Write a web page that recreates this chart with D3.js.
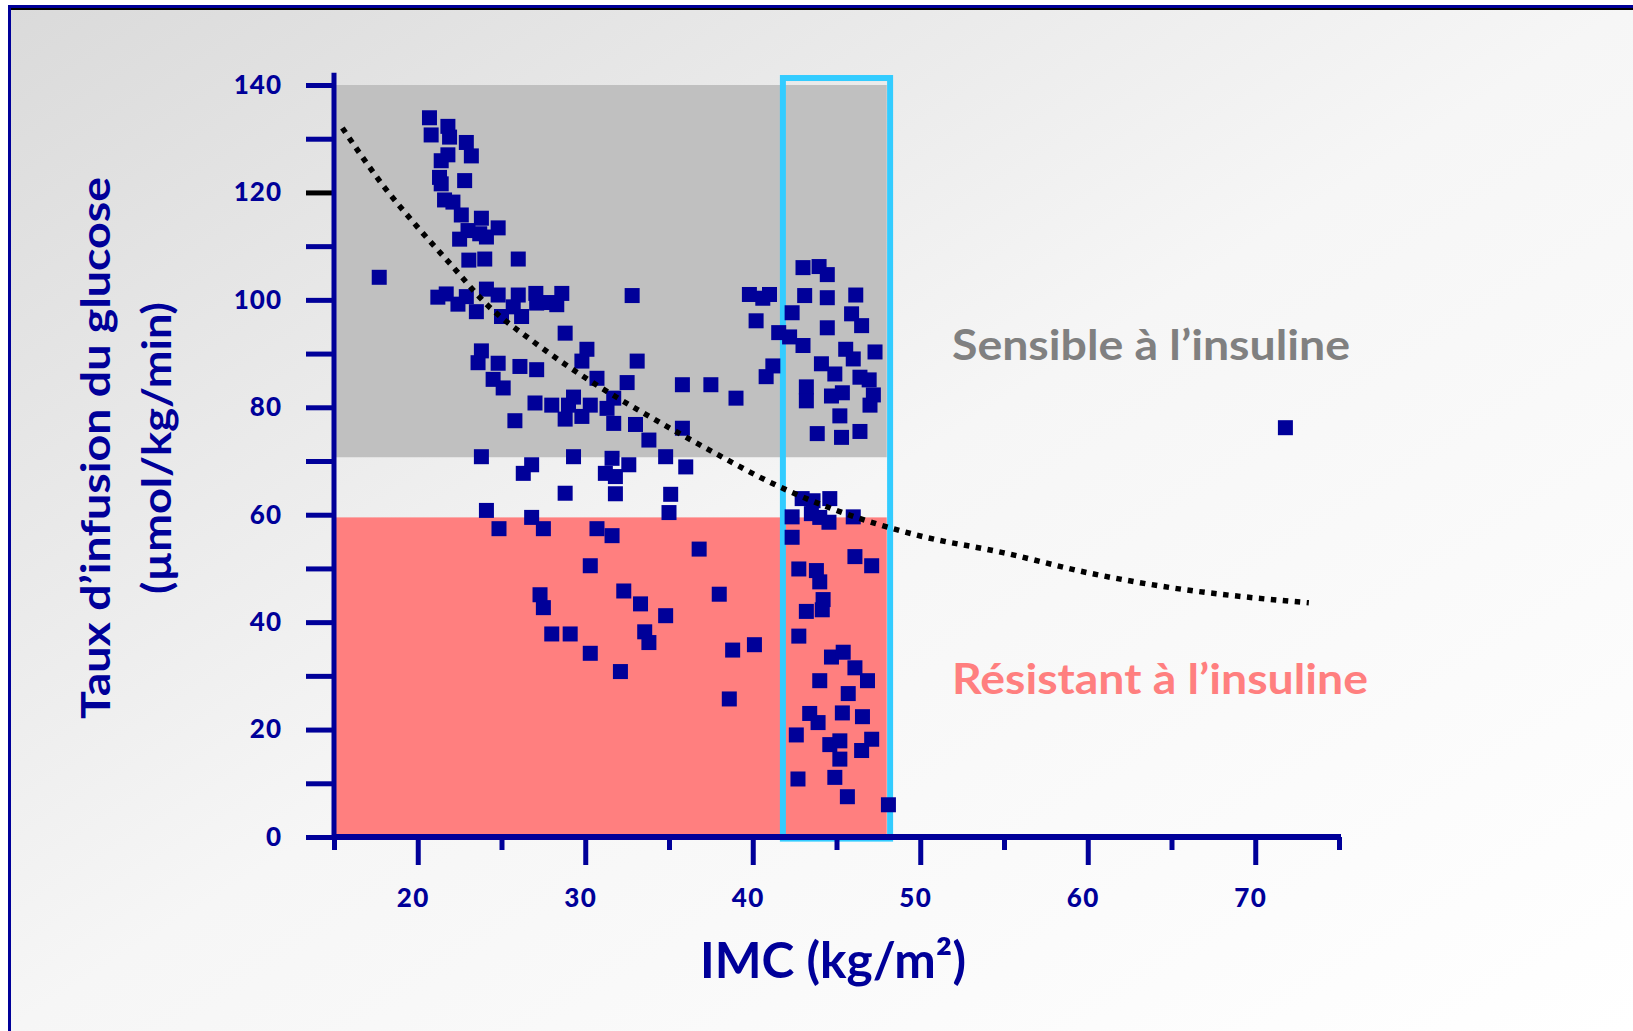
<!DOCTYPE html>
<html>
<head>
<meta charset="utf-8">
<script src="https://cdn.jsdelivr.net/npm/d3@7"></script>
<style>
  html, body { margin: 0; padding: 0; background: #fff; }
  svg { display: block; }
  text { font-family: Lato, "Open Sans", sans-serif; font-weight: 700; }
</style>
</head>
<body>
<svg id="graph"></svg>
<script>
// IMC de chaque sujet (kg/m²)
var bmi = [
    20.7, 20.8, 21.8, 21.9, 22.9, 23.2, 21.8, 21.4, 21.3, 21.4, 22.8, 21.6, 22.1,
    22.6, 23.8, 23.0, 22.5, 23.7, 24.1, 24.8,
    23.05, 24.0, 26.0, 17.7,
    21.2, 21.7, 22.4, 22.9, 24.1, 23.5, 24.8, 25.0, 26.0, 26.2, 27.05, 27.1, 27.8, 28.6, 28.3, 25.7,
    28.8, 30.1, 29.8, 30.7,
    23.8, 23.6, 24.8, 24.5, 25.1, 26.1, 27.1,
    27.0, 28.0, 29.3, 29.0, 30.3, 28.8, 29.8, 25.8,
    23.8, 29.3,
    26.8, 26.3, 28.8, 24.1, 26.8, 24.85, 27.5, 30.7, 30.3, 27.3, 27.5, 28.0, 29.1, 30.3,
    32.5, 33.1, 32.8, 31.7, 31.3, 31.7, 33.0, 33.8, 35.8, 37.5, 39.0, 35.8, 31.6, 32.6,
    39.8, 40.6, 41.0, 40.2, 41.55, 42.35, 42.2, 41.2, 40.8, 43.0, 43.96, 44.45, 43.1, 44.45,
    46.15, 45.9, 46.5, 44.45, 43.0, 45.55, 46.0, 47.3, 44.1, 44.9, 46.4, 46.95, 43.2, 43.2,
    44.7, 45.35, 47.2, 47.0, 45.2, 43.85, 45.3, 46.4,
    34.8, 31.2, 31.8, 31.8, 36.0, 35.1, 35.0, 31.6, 36.8, 32.3, 33.3, 34.8, 38.0, 33.55,
    33.8, 38.8, 40.1, 32.1, 38.6,
    42.95, 43.6, 44.6, 43.5, 44.0, 44.55, 46.0, 42.35, 42.35, 46.1, 47.1, 42.75, 43.8, 44.0,
    44.2, 44.15, 43.2, 42.75, 44.7, 45.4, 46.1, 46.85, 44.0, 45.7, 43.4, 43.9, 45.35, 46.55,
    42.6, 44.6, 45.2, 45.2, 47.1, 46.5, 42.7, 44.9, 45.65, 48.1,
    71.8
];
// taux d'infusion du glucose (µmol/kg/min)
var glucose = [
    133.9, 130.7, 132.3, 130.3, 129.3, 126.8, 127.0, 125.9, 122.8, 121.6, 122.2, 118.6, 118.2,
    115.8, 115.2, 112.9, 111.3, 112.3, 111.7, 113.4,
    107.4, 107.6, 107.6, 104.2,
    100.5, 101.1, 99.2, 100.6, 102.0, 97.8, 100.9, 96.9, 100.9, 96.9, 101.2, 99.4, 99.5, 101.2, 99.1, 98.7,
    93.8, 90.8, 88.6, 85.4,
    90.5, 88.3, 88.2, 85.2, 83.6, 87.6, 87.0,
    80.8, 80.4, 81.9, 80.4, 80.4, 77.8, 78.3, 77.5,
    70.8, 70.8,
    69.3, 67.7, 64.0, 60.8, 59.5, 57.4, 57.4, 57.4, 50.5, 45.1, 42.7, 37.8, 37.8, 34.2,
    84.6, 88.6, 100.8, 81.7, 79.8, 77.0, 76.8, 73.9, 84.2, 84.2, 81.7, 76.1, 70.5, 69.3,
    101.0, 100.3, 101.0, 96.1, 93.9, 97.6, 93.1, 87.7, 85.7, 106.0, 106.2, 104.7, 100.8, 100.4,
    100.9, 97.4, 95.2, 94.8, 91.5, 90.8, 89.0, 90.3, 88.1, 86.2, 85.6, 85.1, 83.8, 81.2,
    82.1, 82.7, 82.3, 80.4, 78.4, 75.1, 74.4, 75.5,
    70.8, 67.7, 67.1, 63.9, 68.9, 63.8, 60.4, 56.1, 53.6, 45.8, 43.4, 41.2, 45.2, 38.2,
    36.2, 34.8, 35.8, 30.8, 25.7,
    63.0, 62.6, 63.0, 60.2, 59.5, 58.6, 59.6, 59.6, 55.8, 52.2, 50.5, 49.9, 49.6, 47.5,
    44.2, 42.3, 42.0, 37.4, 33.5, 34.4, 31.5, 29.1, 29.1, 26.7, 23.0, 21.3, 23.1, 22.4,
    19.0, 17.2, 17.9, 14.5, 18.2, 16.1, 10.8, 11.1, 7.5, 6.0,
    76.2
];

// courbe de tendance (pointillés)
var trendBmi = [15.5, 18, 20, 22, 24, 27, 30.5, 34, 37.2, 41.6, 45, 49.8, 55, 60, 65, 70, 73.2];
var trendGlucose = [132, 121, 113.5, 106.5, 99.5, 92, 84.5, 78, 72.4, 65.2, 60.8, 56.2, 52.9, 49.2, 46.4, 44.5, 43.6];

// zones
var sensibleZone = [70.7, 140];
var resistantZone = [0, 59.5];
var zoneBmiMax = 48;
var obeseBox = [41.8, 48.2];

var yTicks = d3.range(0, 141, 10);
var xMajorTicks = [20, 30, 40, 50, 60, 70];
var xMinorTicks = [15, 25, 35, 45, 55, 65, 75];

var svgWidth = 1633;
var svgHeight = 1031;
var blue = '#000099';

var svg = d3.select('#graph')
    .attr('width', svgWidth)
    .attr('height', svgHeight);

// fond dégradé
var defs = svg.append('defs');
var grad = defs.append('linearGradient')
    .attr('id', 'bg')
    .attr('x1', 0).attr('y1', 0)
    .attr('x2', 1).attr('y2', 1);
grad.append('stop').attr('offset', '0%').attr('stop-color', '#dadada');
grad.append('stop').attr('offset', '50%').attr('stop-color', '#f6f6f6');
grad.append('stop').attr('offset', '100%').attr('stop-color', '#ffffff');

svg.append('rect')
    .attr('x', 8).attr('y', 5)
    .attr('width', svgWidth - 8).attr('height', svgHeight - 5)
    .attr('fill', 'url(#bg)');

// cadre
svg.append('rect').attr('x', 8).attr('y', 5).attr('width', svgWidth - 8).attr('height', 3).attr('fill', blue);
svg.append('rect').attr('x', 11).attr('y', 8).attr('width', svgWidth - 11).attr('height', 2).attr('fill', '#000');
svg.append('rect').attr('x', 8).attr('y', 5).attr('width', 3).attr('height', svgHeight - 5).attr('fill', blue);

var x = d3.scaleLinear().domain([15, 75]).range([334, 1339]);
var y = d3.scaleLinear().domain([0, 140]).range([837, 85]);

// zones colorées
svg.append('rect')
    .attr('x', x(15))
    .attr('y', y(sensibleZone[1]))
    .attr('width', x(zoneBmiMax) - x(15))
    .attr('height', y(sensibleZone[0]) - y(sensibleZone[1]))
    .attr('fill', '#c0c0c0');

svg.append('rect')
    .attr('x', x(15))
    .attr('y', y(resistantZone[1]))
    .attr('width', x(zoneBmiMax) - x(15))
    .attr('height', y(resistantZone[0]) - y(resistantZone[1]))
    .attr('fill', '#ff7f7f');

// encadré bleu clair
svg.append('rect')
    .attr('x', x(obeseBox[0]))
    .attr('y', y(141.3))
    .attr('width', x(obeseBox[1]) - x(obeseBox[0]))
    .attr('height', y(-0.3) - y(141.3))
    .attr('fill', 'none')
    .attr('stroke', '#33ccff')
    .attr('stroke-width', 6);

// points
var DATA = bmi.map((b, i) => ({ bmi: b, glucose: glucose[i] }));
var size = 15;
svg.selectAll('rect.pt')
    .data(DATA)
    .enter()
    .append('rect')
    .attr('class', 'pt')
    .attr('x', d => x(d.bmi) - size / 2)
    .attr('y', d => y(d.glucose) - size / 2)
    .attr('width', size)
    .attr('height', size)
    .attr('fill', blue);

// courbe en pointillés
var trend = trendBmi.map((b, i) => [b, trendGlucose[i]]);
var line = d3.line()
    .x(d => x(d[0]))
    .y(d => y(d[1]))
    .curve(d3.curveMonotoneX);
svg.append('path')
    .datum(trend)
    .attr('d', line)
    .attr('fill', 'none')
    .attr('stroke', '#000')
    .attr('stroke-width', 5.5)
    .attr('stroke-dasharray', '5.5,6.5');

// axe Y
var yAxis = svg.append('g')
    .attr('transform', 'translate(' + x(15) + ',0)')
    .call(d3.axisLeft(y)
        .tickValues(yTicks)
        .tickSize(28)
        .tickPadding(24)
        .tickFormat(d => d % 20 === 0 ? d : ''));
yAxis.select('.domain').remove();
yAxis.selectAll('line')
    .attr('stroke', d => d === 120 ? '#000' : blue)
    .attr('stroke-width', 5);
yAxis.selectAll('text')
    .attr('fill', blue)
    .style('font-size', '26px')
    .style('font-weight', 900)
    .style('letter-spacing', '1px');

svg.append('line')
    .attr('x1', x(15)).attr('x2', x(15))
    .attr('y1', y(142.3)).attr('y2', y(0) + 2)
    .attr('stroke', blue)
    .attr('stroke-width', 5);

// axe X
var xMinor = svg.append('g')
    .attr('transform', 'translate(0,' + y(0) + ')')
    .call(d3.axisBottom(x).tickValues(xMinorTicks).tickSize(13).tickFormat(''));
xMinor.select('.domain').remove();
xMinor.selectAll('line').attr('stroke', blue).attr('stroke-width', 5);

var xMajor = svg.append('g')
    .attr('transform', 'translate(0,' + y(0) + ')')
    .call(d3.axisBottom(x).tickValues(xMajorTicks).tickSize(28).tickPadding(24));
xMajor.select('.domain').remove();
xMajor.selectAll('line').attr('stroke', blue).attr('stroke-width', 5);
xMajor.selectAll('text')
    .attr('fill', blue)
    .attr('dx', -5)
    .style('font-size', '26px')
    .style('font-weight', 900)
    .style('letter-spacing', '1.5px');

svg.append('line')
    .attr('x1', x(15) - 2).attr('x2', x(75) + 2)
    .attr('y1', y(0)).attr('y2', y(0))
    .attr('stroke', blue)
    .attr('stroke-width', 6);

// titres des axes
svg.append('text')
    .attr('x', 833)
    .attr('y', 978)
    .attr('text-anchor', 'middle')
    .attr('fill', blue)
    .attr('textLength', 266)
    .attr('lengthAdjust', 'spacingAndGlyphs')
    .style('font-size', '49px')
    .text('IMC (kg/m²)');

svg.append('text')
    .attr('transform', 'translate(110,448) rotate(-90)')
    .attr('text-anchor', 'middle')
    .attr('fill', blue)
    .attr('textLength', 542)
    .attr('lengthAdjust', 'spacingAndGlyphs')
    .style('font-size', '41px')
    .text('Taux d’infusion du glucose');

svg.append('text')
    .attr('transform', 'translate(171,448) rotate(-90)')
    .attr('text-anchor', 'middle')
    .attr('fill', blue)
    .attr('textLength', 292)
    .attr('lengthAdjust', 'spacingAndGlyphs')
    .style('font-size', '41px')
    .text('(µmol/kg/min)');

// légendes des zones
svg.append('text')
    .attr('x', 952)
    .attr('y', 360)
    .attr('fill', '#808080')
    .attr('textLength', 398)
    .attr('lengthAdjust', 'spacingAndGlyphs')
    .style('font-size', '42px')
    .text('Sensible à l’insuline');

svg.append('text')
    .attr('x', 952)
    .attr('y', 694)
    .attr('fill', '#ff7f7f')
    .attr('textLength', 416)
    .attr('lengthAdjust', 'spacingAndGlyphs')
    .style('font-size', '42px')
    .text('Résistant à l’insuline');
</script>
</body>
</html>
